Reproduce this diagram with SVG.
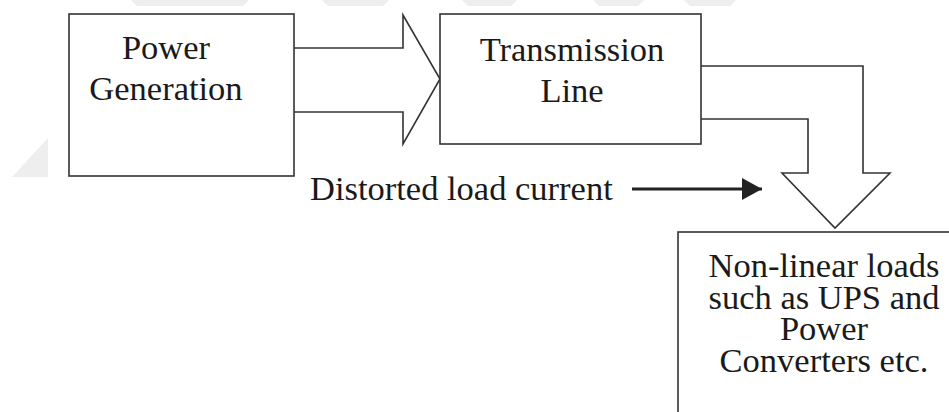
<svg xmlns="http://www.w3.org/2000/svg" width="949" height="412" viewBox="0 0 949 412">
<style>
.box{fill:#fff;stroke:#333;stroke-width:1.6}
.blk{fill:#fff;stroke:#333;stroke-width:1.6;stroke-linejoin:miter}
.t{font-family:"Liberation Serif","Times New Roman",serif;font-size:34.5px;fill:#1a1a1a;text-anchor:middle}
.wm{fill:#eeeeee}
</style>
<defs>
<marker id="ah" markerWidth="20" markerHeight="22" refX="20" refY="11" orient="auto" markerUnits="userSpaceOnUse">
<path d="M0,0 L20,11 L0,22 Z" fill="#222"/>
</marker>
</defs>
<rect width="949" height="412" fill="#fff"/>
<g id="watermark">
<polygon class="wm" points="131,0 249,0 243,6 137,6"/>
<polygon class="wm" points="322,0 389,0 383,6 328,6"/>
<polygon class="wm" points="462,0 517,0 511,6 468,6"/>
<polygon class="wm" points="593,0 644,0 638,6 599,6"/>
<polygon class="wm" points="684,0 736,0 730,6 690,6"/>
<polygon class="wm" points="48,138 48,177 12,177"/>
</g>
<g id="connectors">
<path class="blk" d="M294,48 L403,48 L403,15 L440,79 L403,144 L403,112 L294,112"/>
<path class="blk" d="M701,66 L863,66 L863,173 L890,173 L835,228 L782,173 L808,173 L808,119 L701,119"/>
<line x1="632" y1="189" x2="762" y2="189" stroke="#222" stroke-width="3" marker-end="url(#ah)"/>
</g>
<g id="power-generation">
<rect class="box" x="69" y="14" width="225" height="162"/>
<text class="t"><tspan x="166" y="59">Power</tspan><tspan x="166" y="100">Generation</tspan></text>
</g>
<g id="transmission-line">
<rect class="box" x="440" y="14" width="261" height="130"/>
<text class="t"><tspan x="572" y="61">Transmission</tspan><tspan x="572" y="102">Line</tspan></text>
</g>
<g id="label-distorted">
<text class="t" x="310" y="200" style="text-anchor:start">Distorted load current</text>
</g>
<g id="nonlinear-loads">
<rect class="box" x="678" y="232" width="290" height="200"/>
<text class="t"><tspan x="824" y="277">Non-linear loads</tspan><tspan x="824" y="309">such as UPS and</tspan><tspan x="824" y="340">Power</tspan><tspan x="824" y="372">Converters etc.</tspan></text>
</g>
</svg>
